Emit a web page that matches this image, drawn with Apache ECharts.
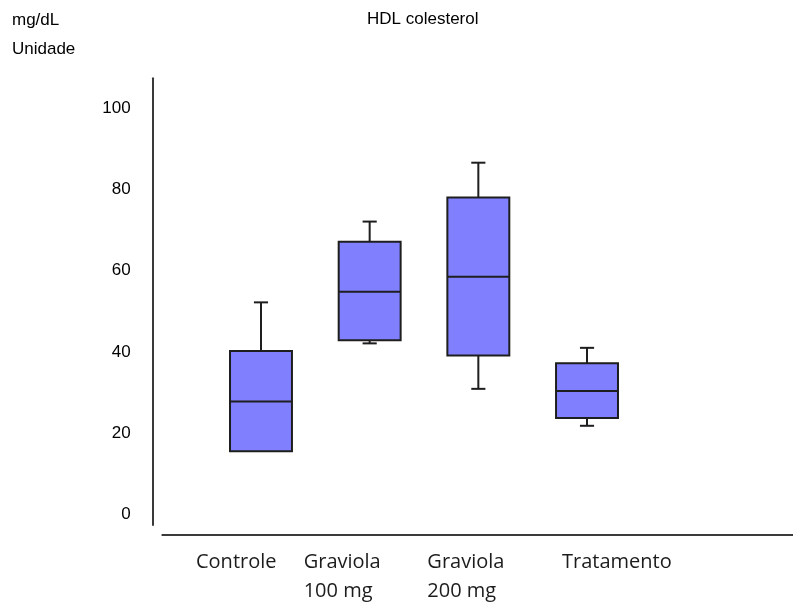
<!DOCTYPE html>
<html>
<head>
<meta charset="utf-8">
<title>HDL colesterol</title>
<script src="https://cdn.jsdelivr.net/npm/echarts@6/dist/echarts.min.js"></script>
<style>
  html, body { margin: 0; padding: 0; background: #ffffff; }
  #chart { width: 793px; height: 608px; }
</style>
</head>
<body>
<div id="chart"></div>
<script>
// Groups along the x axis
const categories = ['Controle', 'Graviola\n100 mg', 'Graviola\n200 mg', 'Tratamento'];

// Box plot statistics per group (mg/dL)
const lowValues    = [15.5, 42.1, 30.9, 21.8];
const q1Values     = [15.5, 42.9, 39.1, 23.7];
const medianValues = [27.8, 54.8, 58.5, 30.4];
const q3Values     = [40.2, 67.1, 78.0, 37.2];
const highValues   = [52.2, 72.1, 86.6, 41.0];

// Value axis ticks
const yMin = 0;
const yMax = 100;
const yStep = 20;

// Left shift of each category label block relative to its band centre
const labelShift = [65, 66, 51, 25];

const BOX_RATIO = 0.57;   // box width as a share of the category band
const CAP_RATIO = 0.13;   // whisker cap width as a share of the band
const INK = '#1e1e1e';

const boxData = categories.map((c, i) => [i, lowValues[i], q1Values[i], medianValues[i], q3Values[i], highValues[i]]);

const rich = {};
labelShift.forEach((w, i) => {
  rich['p' + i] = {
    width: w,
    align: 'left',
    fontFamily: '"Open Sans", sans-serif',
    fontSize: 20,
    lineHeight: 29.5,
    color: '#1c1c1c'
  };
});

function renderBox(params, api) {
  const idx = api.value(0);
  const lo = api.coord([idx, api.value(1)]);
  const q1 = api.coord([idx, api.value(2)]);
  const md = api.coord([idx, api.value(3)]);
  const q3 = api.coord([idx, api.value(4)]);
  const hi = api.coord([idx, api.value(5)]);
  const band = api.size([1, 0])[0];
  const half = band * BOX_RATIO / 2;
  const cap = band * CAP_RATIO / 2;
  const x = md[0];
  const ls = { stroke: INK, lineWidth: 2, fill: null };
  const parts = [
    { type: 'line', shape: { x1: x, y1: q3[1], x2: x, y2: hi[1] }, style: ls },
    { type: 'line', shape: { x1: x - cap, y1: hi[1], x2: x + cap, y2: hi[1] }, style: ls }
  ];
  // lower whisker only when the minimum lies below the first quartile
  if (lo[1] > q1[1] + 0.5) {
    parts.push(
      { type: 'line', shape: { x1: x, y1: q1[1], x2: x, y2: lo[1] }, style: ls },
      { type: 'line', shape: { x1: x - cap, y1: lo[1], x2: x + cap, y2: lo[1] }, style: ls }
    );
  }
  parts.push(
    {
      type: 'rect',
      shape: { x: x - half, y: q3[1], width: half * 2, height: q1[1] - q3[1] },
      style: { fill: '#8080ff', stroke: INK, lineWidth: 2 }
    },
    { type: 'line', shape: { x1: x - half, y1: md[1], x2: x + half, y2: md[1] }, style: ls }
  );
  return { type: 'group', children: parts };
}

const chart = echarts.init(document.getElementById('chart'), null, { renderer: 'canvas' });

const plainText = { fontFamily: '"Liberation Sans", Arial, sans-serif', fontSize: 17, fontWeight: 'normal', color: '#000000' };

chart.setOption({
  backgroundColor: '#ffffff',
  animation: false,
  title: [
    { text: 'HDL colesterol', left: 367, top: 11, padding: 0, textStyle: plainText },
    { text: 'mg/dL', left: 12, top: 12, padding: 0, textStyle: plainText },
    { text: 'Unidade', left: 12, top: 41, padding: 0, textStyle: plainText }
  ],
  grid: [
    // plotting area for the boxes
    { left: 206.65, right: 151.65, top: 108.3, bottom: 93.7 },
    // vertical axis rule
    { left: 152.3, width: 1, top: 78.3, bottom: 83 },
    // horizontal axis rule
    { left: 162.3, right: 0, top: 400, bottom: 73 }
  ],
  xAxis: [
    {
      gridIndex: 0,
      type: 'category',
      data: categories,
      axisLine: { show: false },
      axisTick: { show: false },
      splitLine: { show: false },
      axisLabel: {
        interval: 0,
        margin: 33,
        align: 'right',
        verticalAlign: 'top',
        fontFamily: '"Open Sans", sans-serif',
        fontSize: 20,
        lineHeight: 29.5,
        color: '#1c1c1c',
        formatter: (value, index) => value.split('\n').map(s => '{p' + index + '|' + s + '}').join('\n'),
        rich: rich
      }
    },
    { gridIndex: 1, type: 'value', show: false },
    {
      gridIndex: 2,
      type: 'value',
      min: 0,
      max: 1,
      axisLine: { show: true, onZero: false, lineStyle: { color: '#3a3a3a', width: 2 } },
      axisTick: { show: false },
      axisLabel: { show: false },
      splitLine: { show: false }
    }
  ],
  yAxis: [
    {
      gridIndex: 0,
      type: 'value',
      min: yMin,
      max: yMax,
      interval: yStep,
      axisLine: { show: false },
      axisTick: { show: false },
      splitLine: { show: false },
      axisLabel: {
        margin: 76,
        fontFamily: '"Liberation Sans", Arial, sans-serif',
        fontSize: 17,
        color: '#000000'
      }
    },
    {
      gridIndex: 1,
      type: 'value',
      min: 0,
      max: 1,
      axisLine: { show: true, onZero: false, lineStyle: { color: '#3a3a3a', width: 2 } },
      axisTick: { show: false },
      axisLabel: { show: false },
      splitLine: { show: false }
    },
    { gridIndex: 2, type: 'value', show: false }
  ],
  series: [
    {
      type: 'custom',
      name: 'HDL colesterol',
      xAxisIndex: 0,
      yAxisIndex: 0,
      renderItem: renderBox,
      encode: { x: 0, y: [1, 2, 3, 4, 5] },
      data: boxData
    }
  ]
});
</script>
</body>
</html>
